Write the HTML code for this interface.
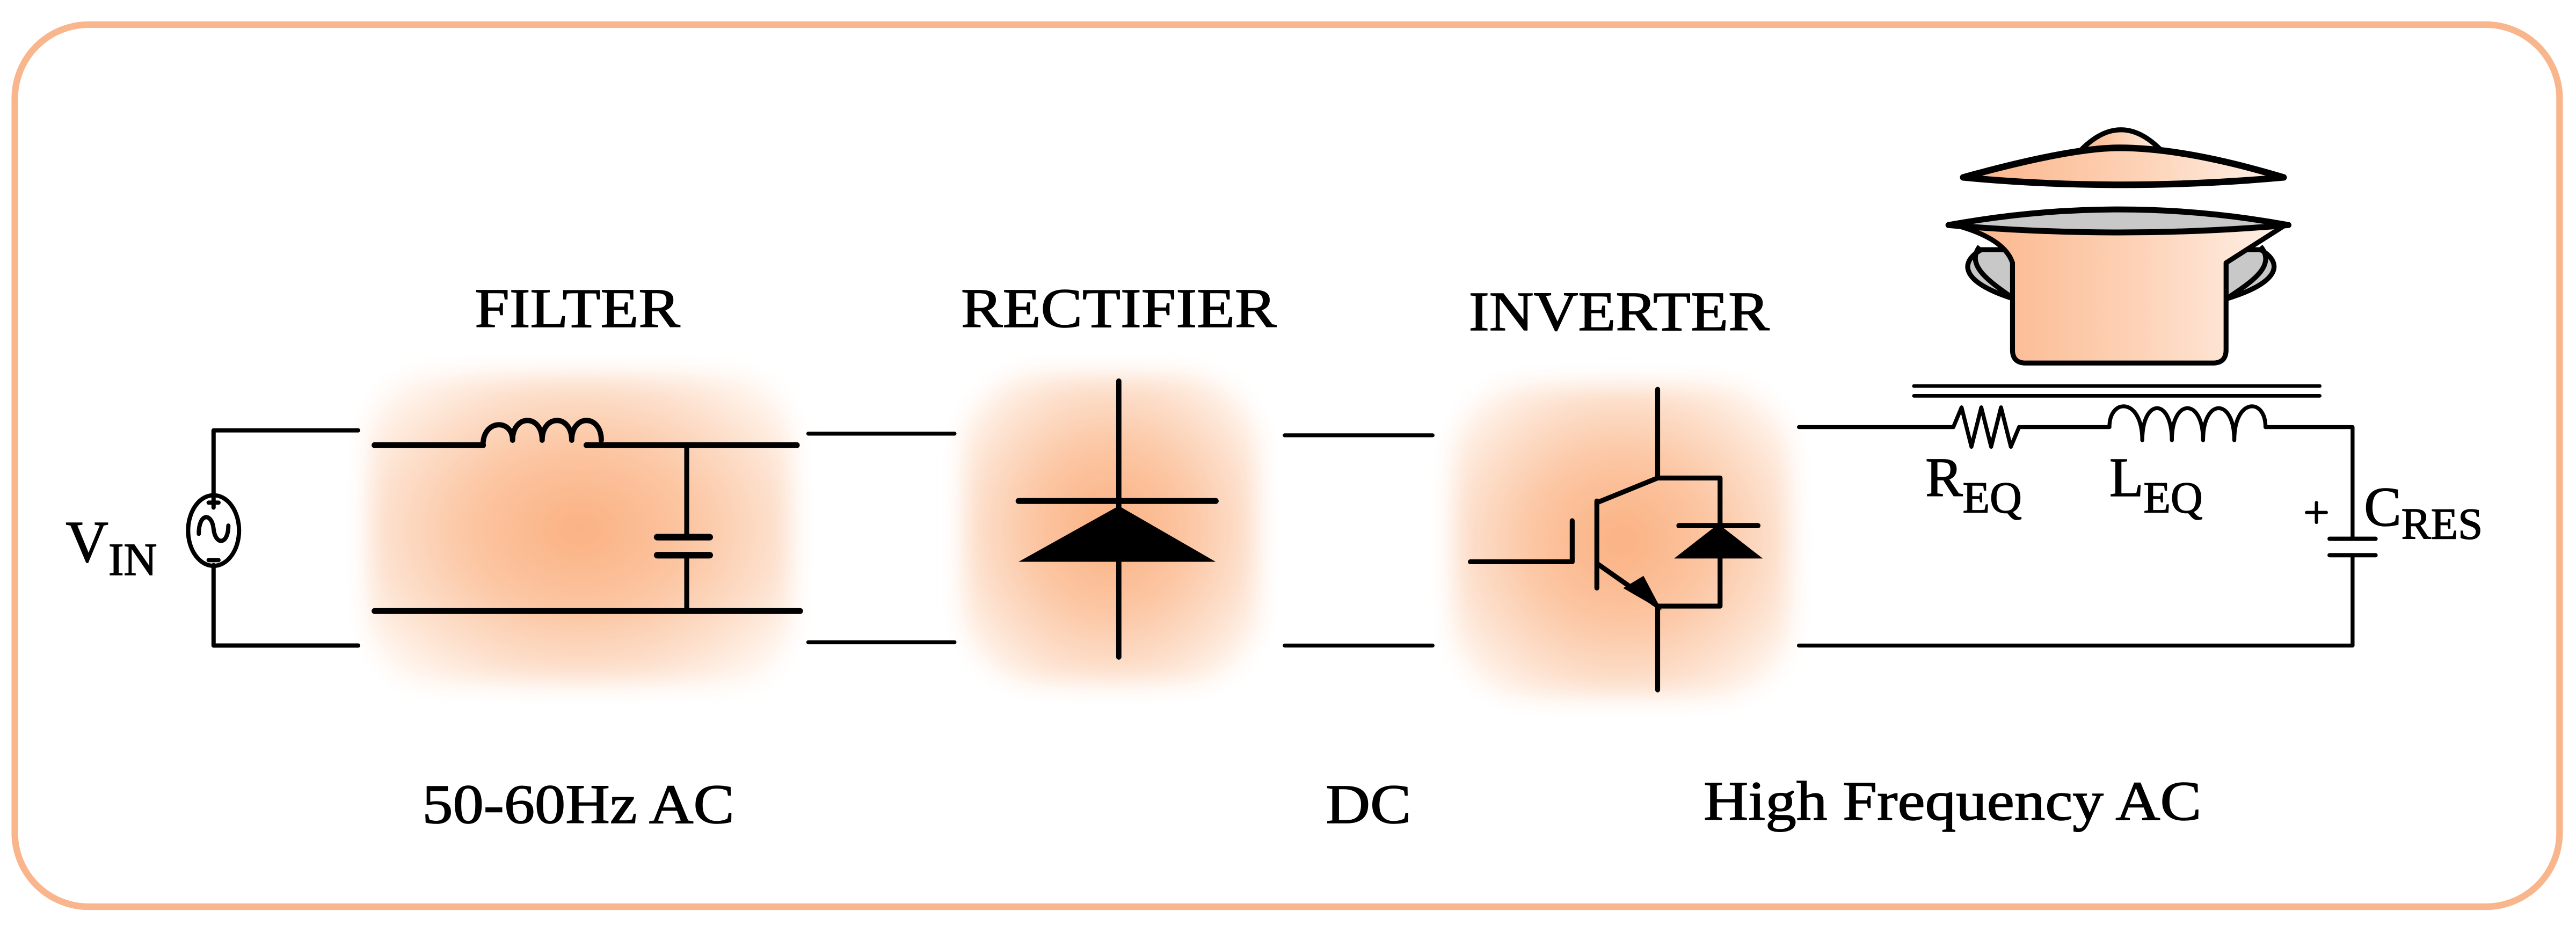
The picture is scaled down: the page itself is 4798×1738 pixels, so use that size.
<!DOCTYPE html>
<html><head><meta charset="utf-8"><style>
html,body{margin:0;padding:0;background:#fff;}
svg{display:block;}
text{font-family:"Liberation Serif",serif;fill:#000;stroke:#000;stroke-width:0.5;}
</style></head><body>
<svg width="4798" height="1738" viewBox="0 0 1568 568" preserveAspectRatio="none" xmlns="http://www.w3.org/2000/svg">
<defs>
<radialGradient id="g" cx="50%" cy="50%" r="60%">
<stop offset="0" stop-color="#FBB080"/>
<stop offset="0.45" stop-color="#FCC6A3"/>
<stop offset="0.8" stop-color="#FDE2D0"/>
<stop offset="1" stop-color="#FFF4EC"/>
</radialGradient>
<filter id="bl" x="-20%" y="-20%" width="140%" height="140%"><feGaussianBlur stdDeviation="7"/></filter>
<linearGradient id="pg" x1="0" x2="1" y1="0" y2="0">
<stop offset="0" stop-color="#FBB488"/>
<stop offset="0.55" stop-color="#FDD2B6"/>
<stop offset="1" stop-color="#FEF1E8"/>
</linearGradient>
</defs>
<rect width="1568" height="568" fill="#fff"/>
<rect x="9" y="15" width="1549" height="537" rx="45" ry="45" fill="none" stroke="#F9B58C" stroke-width="4"/>

<!-- glows -->
<rect x="224" y="228" width="258" height="188" rx="40" fill="url(#g)" filter="url(#bl)"/>
<rect x="586" y="228" width="180" height="188" rx="45" fill="url(#g)" filter="url(#bl)"/>
<rect x="884" y="234" width="206" height="190" rx="45" fill="url(#g)" filter="url(#bl)"/>

<g stroke="#000" stroke-width="2.6" fill="none" stroke-linecap="round" stroke-linejoin="round">
<!-- VIN -->
<path d="M218 262 H130 V302 M130 344 V393 H218"/>
<ellipse cx="130" cy="323" rx="15.5" ry="21.5"/>
<path d="M121 325 C121 312 129 312 130 322 C131 332 139 332 139 320"/>
<path d="M127 306 H133 M130 303 V309 M127 341 H133"/>
<!-- filter -->
<path d="M228 271 H294 M357 271 H485 M228 372 H487" stroke-width="3.6"/>
<path d="M294 271 C294 255 312 255 312 268 C312 252 330 252 330 268 C330 252 348 252 348 268 C348 252 366 252 366 268" stroke-width="3.2"/>
<path d="M418 271 V327 M418 339 V372" stroke-width="3"/>
<path d="M400 327 H432 M400 338 H432" stroke-width="4"/>
<!-- links -->
<path d="M492 264 H581 M492 391 H581 M782 265 H872 M782 393 H872" stroke-width="2.4"/>
<!-- diode -->
<path d="M681 232 V400" stroke-width="3.2"/>
<path d="M620 305 H740" stroke-width="3.6"/>
<!-- IGBT -->
<path d="M1009 237 V291 L972 306 M972 305 V358 M957 317 V342 H895 M972 343 L1009 369 V420 M1009 291 H1047 V369 H1009" stroke-width="3"/>
<path d="M1022 320 H1070" stroke-width="3.2"/>
<!-- output -->
<path d="M1095 260 H1189 L1194 248 L1200 272 L1206 248 L1212 272 L1218 248 L1224 272 L1229 260 H1284 M1379 260 H1432 V328 M1432 339 V393 H1095" stroke-width="2.4"/>
<path d="M1284 260 C1284 242 1304 242 1304 268 C1304 242 1322 242 1322 268 C1322 242 1341 242 1341 268 C1341 242 1360 242 1360 268 C1360 242 1379 242 1379 260" stroke-width="2.4"/>
<path d="M1418 328 H1446 M1418 338 H1446" stroke-width="2.6"/>
<path d="M1165 235 H1412 M1165 241 H1412" stroke-width="2.2"/>
<path d="M1404 312 H1416 M1410 306 V318" stroke-width="2"/>
</g>
<polygon points="620,342 740,342 681,308" fill="#000"/>
<polygon points="1019,340 1073,340 1046,319" fill="#000"/>
<polygon points="990,358 1009,369 1000,352" fill="#000" stroke="#000" stroke-width="2"/>

<!-- pot -->
<g stroke="#000" stroke-width="3" stroke-linejoin="round">
<path d="M1206 152 C1192 160 1194 172 1226 182 L1226 152 Z" fill="#c8c8c8"/>
<path d="M1376 152 C1390 160 1388 172 1355 182 L1355 152 Z" fill="#c8c8c8"/>
<path d="M1205 150 C1196 162 1212 172 1226 182" fill="none"/>
<path d="M1376 150 C1386 162 1370 172 1355 182" fill="none"/>
<path d="M1190 137 Q1220 145 1225 160 V213 Q1225 221 1233 221 H1347 Q1355 221 1355 213 V160 L1391 137 Z" fill="url(#pg)"/>
<path d="M1186 137 Q1290 118 1393 137 Q1290 146 1186 137 Z" fill="#c8c8c8" stroke-width="3.6"/>
<path d="M1266 92 Q1291 66 1316 92 Z" fill="url(#pg)"/>
<path d="M1195 108 Q1260 90 1290 90 Q1330 90 1390 108 Q1290 117 1195 108 Z" fill="url(#pg)" stroke-width="4"/>
</g>

<!-- labels -->
<text x="289" y="199" font-size="34" textLength="125" lengthAdjust="spacingAndGlyphs">FILTER</text>
<text x="585" y="199" font-size="34" textLength="192" lengthAdjust="spacingAndGlyphs">RECTIFIER</text>
<text x="894" y="201" font-size="34" textLength="183" lengthAdjust="spacingAndGlyphs">INVERTER</text>
<text x="257" y="501" font-size="34" textLength="190" lengthAdjust="spacingAndGlyphs">50-60Hz AC</text>
<text x="807" y="501" font-size="34" textLength="52" lengthAdjust="spacingAndGlyphs">DC</text>
<text x="1037" y="499" font-size="34" textLength="303" lengthAdjust="spacingAndGlyphs">High Frequency AC</text>
<text x="40" y="342" font-size="36">V<tspan font-size="28" dy="8">IN</tspan></text>
<text x="1172" y="302" font-size="34">R<tspan font-size="27" dy="10">EQ</tspan></text>
<text x="1284" y="302" font-size="34">L<tspan font-size="27" dy="10">EQ</tspan></text>
<text x="1439" y="320" font-size="34">C<tspan font-size="27" dy="8">RES</tspan></text>
</svg>
</body></html>
